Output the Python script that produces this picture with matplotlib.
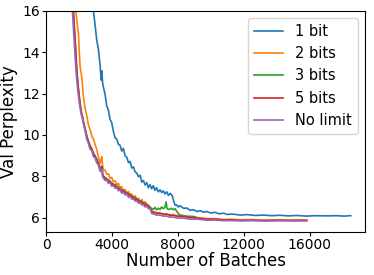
import matplotlib
matplotlib.use('Agg')
import matplotlib.pyplot as plt

# (batches, val perplexity)
x_1bit = [2000, 2500, 2860, 2960, 3060, 3100, 3170, 3270, 3330, 3370, 3420, 3470, 3570, 3670, 3770, 3870, 3970,
          4080, 4180, 4280, 4380, 4480, 4580, 4680, 4790, 4890, 4990, 5090, 5190, 5290, 5390, 5500, 5600, 5700,
          5800, 5900, 6000, 6100, 6200, 6300, 6400, 6500, 6600, 6700, 6810, 6910, 7010, 7110, 7210, 7320, 7420,
          7530, 7660, 7720, 7820, 7920, 8030, 8130, 8330, 8530, 8740, 8940, 9150, 9350, 9550, 9750, 10000, 10260,
          10500, 10760, 11000, 11300, 11780, 12200, 12700, 13190, 13700, 14200, 14700, 15220, 15800, 16400, 17000,
          17600, 18100, 18500]
y_1bit = [24, 19, 16.0, 15.3, 14.6, 14.4, 14.1, 13.3, 12.65, 13.1, 12.5, 12.3, 11.95, 11.4, 11.2, 10.75, 10.6,
          10.15, 9.85, 9.8, 9.55, 9.5, 9.22, 9.35, 8.98, 8.92, 8.66, 8.72, 8.4, 8.46, 8.22, 8.15, 7.98, 8.05,
          7.72, 7.8, 7.58, 7.7, 7.45, 7.6, 7.4, 7.55, 7.32, 7.45, 7.25, 7.35, 7.22, 7.3, 7.15, 7.25, 7.08,
          7.18, 7.05, 6.85, 6.61, 6.62, 6.52, 6.58, 6.46, 6.47, 6.36, 6.39, 6.3, 6.34, 6.27, 6.3, 6.23, 6.26,
          6.19, 6.22, 6.16, 6.18, 6.13, 6.15, 6.11, 6.13, 6.1, 6.12, 6.09, 6.11, 6.08, 6.1, 6.09,
          6.1, 6.08, 6.1]

x_2bit = [1000, 1500, 1790, 1870, 1950, 2000, 2050, 2150, 2250, 2350, 2450, 2550, 2660, 2760, 2860, 2960, 3060,
          3160, 3260, 3320, 3370, 3420, 3470, 3570, 3670, 3770, 3870, 3970, 4070, 4180, 4280, 4380, 4480, 4580,
          4690, 4790, 4890, 5000, 5090, 5190, 5290, 5400, 5500, 5600, 5700, 5800, 5900, 6000, 6100, 6200, 6300,
          6410, 6500, 6700, 6910, 7100, 7320, 7520, 7720, 8000, 8300, 8740, 9230, 9750, 10260, 10760, 11270,
          11780, 12500, 13200, 14000, 14800, 15830]
y_2bit = [30, 19, 16.0, 15.4, 14.9, 14.0, 13.3, 12.8, 11.85, 11.3, 10.96, 10.5, 10.25, 9.95, 9.8, 9.55, 9.3,
          8.95, 8.63, 8.8, 8.95, 8.5, 8.3, 8.3, 8.1, 8.12, 7.9, 7.95, 7.75, 7.78, 7.6, 7.66, 7.45, 7.5,
          7.32, 7.36, 7.2, 7.26, 7.1, 7.15, 7.0, 7.06, 6.9, 6.95, 6.76, 6.88, 6.7, 6.78, 6.65, 6.62, 6.5,
          6.3, 6.3, 6.24, 6.24, 6.18, 6.19, 6.13, 6.15, 6.1, 6.1, 6.03, 6.01, 5.96, 5.96, 5.92, 5.93,
          5.9, 5.91, 5.89, 5.9, 5.89, 5.9]

x_3bit = [1000, 1400, 1640, 1745, 1850, 1950, 2050, 2130, 2210, 2290, 2370, 2450, 2550, 2660, 2760, 2860, 2960,
          3060, 3160, 3260, 3330, 3370, 3420, 3470, 3570, 3670, 3770, 3870, 3970, 4070, 4180, 4280, 4380, 4480,
          4580, 4690, 4790, 4890, 5000, 5090, 5190, 5290, 5400, 5500, 5600, 5700, 5800, 5900, 6000, 6100, 6200,
          6300, 6410, 6500, 6600, 6700, 6800, 6910, 7000, 7100, 7200, 7280, 7330, 7420, 7520, 7620, 7720, 7830,
          7930, 8030, 8130, 8330, 8530, 8740, 9040]
y_3bit = [27, 18.5, 16.0, 14.6, 13.1, 12.2, 11.5, 11.1, 10.85, 10.5, 10.25, 10.0, 9.7, 9.5, 9.3, 9.15, 8.95,
          8.85, 8.62, 8.45, 8.32, 8.5, 8.15, 8.0, 7.95, 7.82, 7.84, 7.7, 7.7, 7.56, 7.6, 7.46, 7.48, 7.34,
          7.36, 7.24, 7.26, 7.14, 7.16, 7.04, 7.06, 6.92, 6.98, 6.82, 6.88, 6.72, 6.8, 6.64, 6.7, 6.56, 6.6,
          6.48, 6.45, 6.4, 6.5, 6.38, 6.46, 6.4, 6.52, 6.44, 6.5, 6.77, 6.45, 6.4, 6.42, 6.46, 6.38, 6.44,
          6.3, 6.2, 6.13, 6.1, 6.07, 6.07, 6.05]

x_5bit = [1000, 1400, 1640, 1745, 1850, 1950, 2050, 2130, 2210, 2290, 2370, 2450, 2550, 2660, 2760, 2860, 2960,
          3060, 3160, 3260, 3330, 3370, 3420, 3470, 3570, 3670, 3770, 3870, 3970, 4070, 4180, 4280, 4380, 4480,
          4580, 4690, 4790, 4890, 5000, 5090, 5190, 5290, 5400, 5500, 5600, 5700, 5800, 5900, 6000, 6100, 6200,
          6300, 6410, 6500, 6700, 6910, 7100, 7320, 7520, 7720, 8000, 8300, 8740, 9230, 9750, 10260, 10760,
          11270, 11780, 12500, 13200, 14000, 14800, 15830]
y_5bit = [27, 18.5, 16.0, 14.6, 13.1, 12.2, 11.5, 11.05, 10.8, 10.5, 10.2, 9.9, 9.7, 9.4, 9.35, 9.05, 9.0,
          8.75, 8.65, 8.35, 8.3, 8.45, 8.05, 8.0, 7.86, 7.9, 7.74, 7.78, 7.6, 7.64, 7.5, 7.54, 7.38, 7.42,
          7.26, 7.32, 7.18, 7.22, 7.06, 7.12, 6.96, 7.0, 6.88, 6.9, 6.78, 6.82, 6.7, 6.72, 6.6, 6.64, 6.52,
          6.52, 6.29, 6.27, 6.22, 6.21, 6.17, 6.16, 6.12, 6.11, 6.07, 6.06, 6.01, 5.98, 5.93, 5.93, 5.89,
          5.9, 5.87, 5.88, 5.86, 5.88, 5.87, 5.87]

x_nolimit = [1000, 1400, 1580, 1700, 1800, 1900, 2000, 2100, 2200, 2290, 2370, 2450, 2550, 2660, 2760, 2860, 2960,
             3060, 3160, 3260, 3330, 3370, 3420, 3470, 3570, 3670, 3770, 3870, 3970, 4070, 4180, 4280, 4380, 4480,
             4580, 4690, 4790, 4890, 5000, 5090, 5190, 5290, 5400, 5500, 5600, 5700, 5800, 5900, 6000, 6100, 6200,
             6300, 6410, 6500, 6700, 6910, 7100, 7320, 7520, 7720, 8000, 8300, 8740, 9230, 9750, 10260, 10760,
             11270, 11780, 12500, 13200, 14000, 14800, 15830]
y_nolimit = [26, 18, 16.0, 14.4, 13.1, 12.2, 11.55, 11.05, 10.75, 10.4, 10.15, 9.8, 9.6, 9.3, 9.25, 8.95, 8.9,
             8.65, 8.55, 8.25, 8.22, 8.36, 7.98, 7.92, 7.8, 7.82, 7.66, 7.7, 7.52, 7.56, 7.42, 7.46, 7.3, 7.36,
             7.18, 7.24, 7.1, 7.14, 6.98, 7.04, 6.9, 6.92, 6.8, 6.82, 6.7, 6.74, 6.62, 6.64, 6.52, 6.56, 6.44,
             6.44, 6.2, 6.19, 6.13, 6.13, 6.08, 6.08, 6.03, 6.03, 5.98, 5.99, 5.93, 5.93, 5.88, 5.89, 5.86,
             5.86, 5.85, 5.86, 5.84, 5.85, 5.85, 5.85]

fig = plt.figure(figsize=(3.74, 2.75), dpi=100)
ax = fig.add_axes([0.124, 0.157, 0.852, 0.804])

ax.plot(x_1bit, y_1bit, lw=1.2, label='1 bit')
ax.plot(x_2bit, y_2bit, lw=1.2, label='2 bits')
ax.plot(x_3bit, y_3bit, lw=1.2, label='3 bits')
ax.plot(x_5bit, y_5bit, lw=1.2, label='5 bits')
ax.plot(x_nolimit, y_nolimit, lw=1.2, label='No limit')

ax.set_xlim(0, 19370)
ax.set_ylim(5.32, 16)
ax.set_xticks([0, 4000, 8000, 12000, 16000])
ax.set_yticks([6, 8, 10, 12, 14, 16])
ax.tick_params(labelsize=10, pad=1.5, length=3)
ax.set_xlabel('Number of Batches', fontsize=12, labelpad=0)
ax.set_ylabel('Val Perplexity', fontsize=12, labelpad=3)
ax.legend(loc='upper right', fontsize=10.5)

fig.savefig('out.png', dpi=100)
